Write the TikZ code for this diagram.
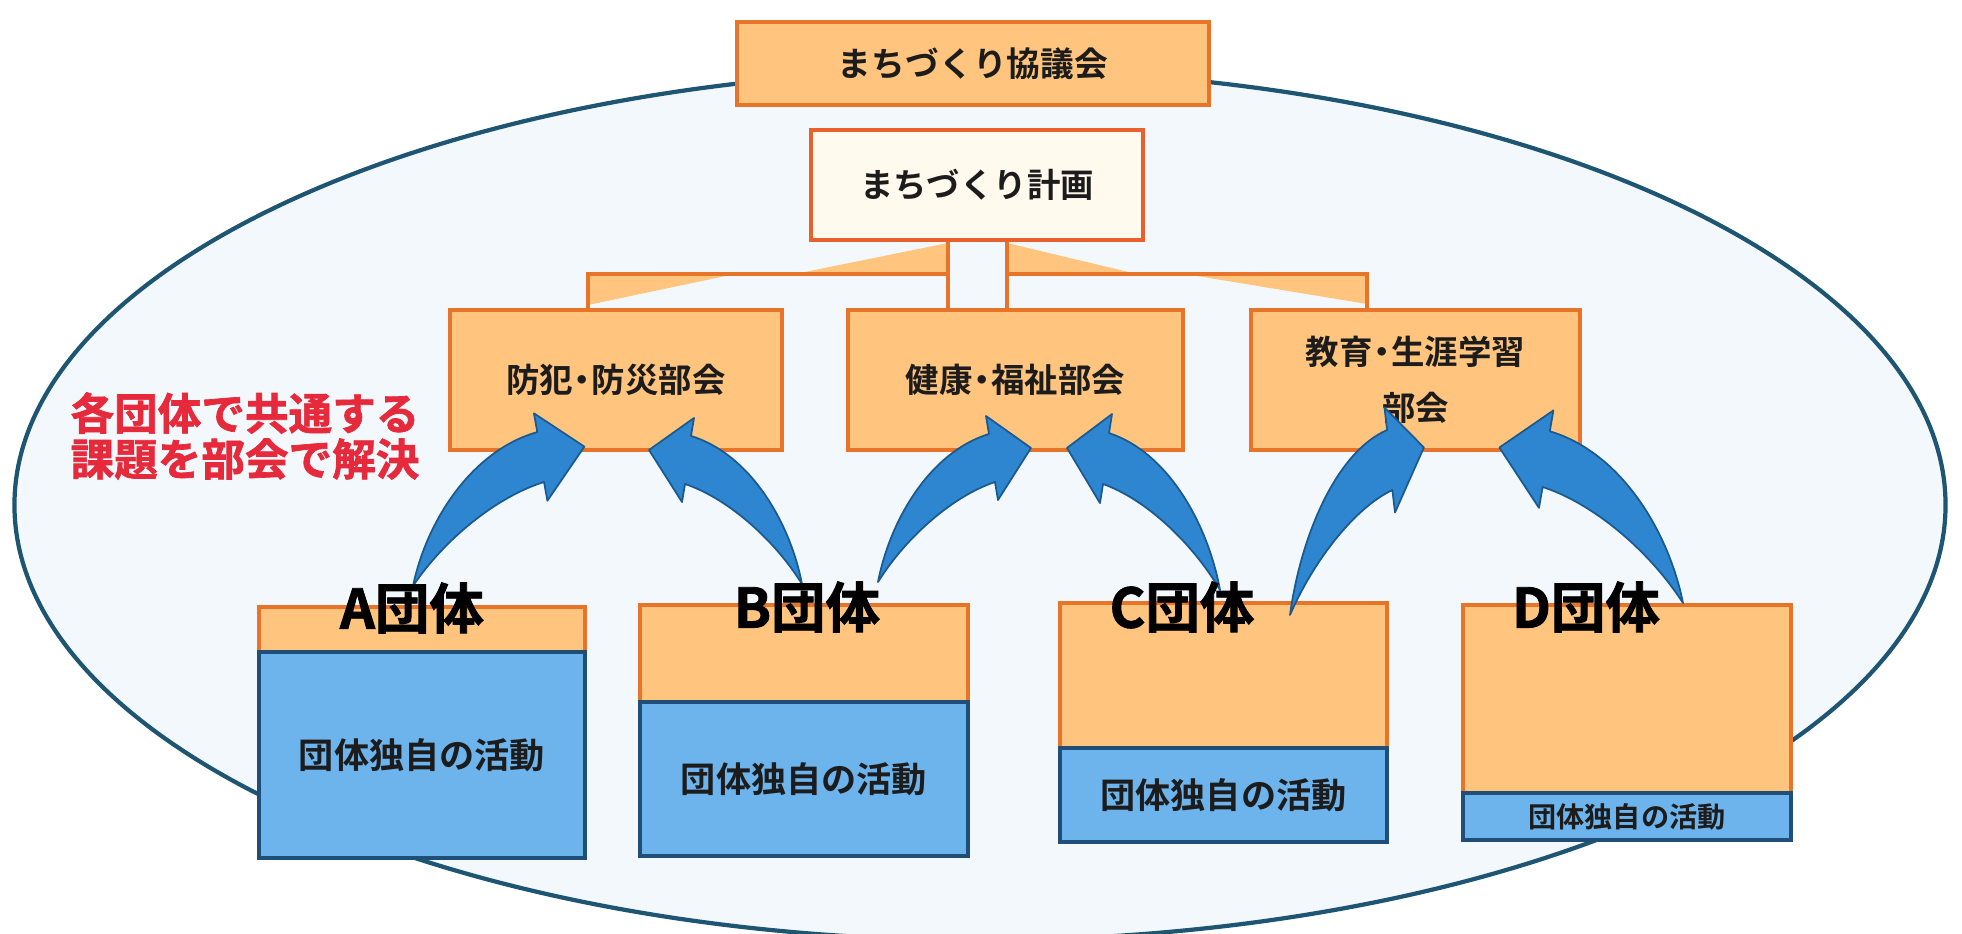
\documentclass[tikz,border=0pt]{standalone}
\usepackage{fontspec}
\setmainfont{Noto Sans CJK JP}[BoldFont={* Bold}]
\newfontfamily\heavyjp{Noto Sans CJK JP Bold}[FakeBold=1.6]
\usetikzlibrary{calc}
\definecolor{oFill}{HTML}{FFC47E}
\definecolor{oLine}{HTML}{E8742A}
\definecolor{oRed}{HTML}{E8602C}
\definecolor{bFill}{HTML}{6DB3EC}
\definecolor{bLine}{HTML}{1F4E79}
\definecolor{arrFill}{HTML}{2F86D0}
\definecolor{arrLine}{HTML}{1B5A90}
\definecolor{ellFill}{HTML}{F3F8FC}
\definecolor{ellLine}{HTML}{1D5573}
\definecolor{cream}{HTML}{FFF9EE}
\definecolor{redtxt}{HTML}{E62A3C}
\definecolor{txt}{HTML}{1C1C1C}
\newcommand{\nd}{\kern-0.22em・\kern-0.22em}
\tikzset{
 obox/.style={draw=oLine, fill=oFill, line width=1.2pt, inner sep=0pt, text=txt,
   font=\bfseries\fontsize{9.5pt}{13pt}\selectfont, align=center},
 pbox/.style={obox, fill=cream, draw=oRed},
 topart/.style={draw=oLine, fill=oFill, line width=1.1pt, inner sep=0pt},
 ownbox/.style={draw=bLine, fill=bFill, line width=1.1pt, inner sep=0pt, text=txt,
   font=\bfseries\fontsize{10pt}{12pt}\selectfont},
 grp/.style={font=\heavyjp\fontsize{15.5pt}{18pt}\selectfont, text=black, inner sep=0pt},
 conn/.style={draw=oLine, line width=1pt},
 fan/.style={fill=oFill},
 barrow/.style={fill=arrFill, draw=arrLine, line width=0.5pt, line join=round}
}
\newcommand{\blockarrow}[3]{%
 \begin{scope}[shift={(#1)}, xscale=#2, yscale=#3]
 \draw[barrow] (0,0) .. controls (12,-62) and (52,-130) .. (111,-148) -- (108,-166)
   -- (153,-134) -- (120,-82) -- (117,-100) .. controls (75,-86) and (28,-45) .. (0,0) -- cycle;
 \end{scope}}
\begin{document}
\begin{tikzpicture}[x=0.01cm,y=-0.01cm]
\useasboundingbox (0,0) rectangle (1962,934);
\clip (0,0) rectangle (1962,934);
\fill[white] (0,0) rectangle (1962,934);
% big ellipse
\draw[fill=ellFill, draw=ellLine, line width=1.2pt] (980,505) ellipse [x radius=9.65cm, y radius=4.35cm];

% fan shading of the connectors
\fill[fan] (948,243) -- (948,274) -- (795,274) -- cycle;
\fill[fan] (588,274) -- (735,274) -- (588,305) -- cycle;
\fill[fan] (1007,243) -- (1007,274) -- (1137,274) -- cycle;
\fill[fan] (1367,274) -- (1367,304) -- (1185,274) -- cycle;

% top nodes
\node[obox, minimum width=4.72cm, minimum height=0.83cm, font=\bfseries\fontsize{9.6pt}{12pt}\selectfont] (kyo) at (973,63.5) {まちづくり協議会};
\node[pbox, minimum width=3.32cm, minimum height=1.10cm] (plan) at (977,185) {まちづくり計画};

% sub-committees
\node[obox, minimum width=3.32cm, minimum height=1.40cm] (b1) at (616,380) {防犯\nd 防災部会};
\node[obox, minimum width=3.35cm, minimum height=1.40cm] (b2) at (1015.5,380) {健康\nd 福祉部会};
\node[obox, minimum width=3.29cm, minimum height=1.40cm] (b3) at (1415.5,380) {教育\nd 生涯学習\\[3pt]部会};

% connectors
\coordinate (jl) at (948,274);
\coordinate (jr) at (1007,274);
\draw[conn] ([xshift=-0.29cm]plan.south) -- ([xshift=-0.29cm]plan.south |- b2.north);
\draw[conn] ([xshift=0.30cm]plan.south) -- ([xshift=0.30cm]plan.south |- b2.north);
\draw[conn] (jl) -| ([xshift=-0.28cm]b1.north);
\draw[conn] (jr) -| ([xshift=-0.485cm]b3.north);

% group boxes
\node[topart, minimum width=3.26cm, minimum height=0.45cm] (Atop) at (422,629.5) {};
\node[ownbox, minimum width=3.26cm, minimum height=2.06cm] (Aown) at (422,755) {団体独自の活動};
\node[topart, minimum width=3.28cm, minimum height=0.97cm] (Btop) at (804,653.5) {};
\node[ownbox, minimum width=3.28cm, minimum height=1.54cm] (Bown) at (804,779) {団体独自の活動};
\node[topart, minimum width=3.27cm, minimum height=1.45cm] (Ctop) at (1223.5,675.5) {};
\node[ownbox, minimum width=3.27cm, minimum height=0.94cm] (Cown) at (1223.5,795) {\raisebox{-3pt}{団体独自の活動}};
\node[topart, minimum width=3.28cm, minimum height=1.88cm] (Dtop) at (1627,699) {};
\node[ownbox, minimum width=3.28cm, minimum height=0.47cm, font=\bfseries\fontsize{8pt}{9pt}\selectfont] (Down) at (1627,816.5) {団体独自の活動};

% curved block arrows
\coordinate (t1) at (413,586);
\coordinate (t2) at (802,584);
\coordinate (t3) at (878,582);
\coordinate (t4) at (1220,590);
\coordinate (t5) at (1290,615);
\coordinate (t6) at (1683,603);
\blockarrow{t1}{1.12}{1.04}
\blockarrow{t2}{-1}{1}
\blockarrow{t3}{1}{1}
\blockarrow{t4}{-1}{1.06}
\blockarrow{t5}{0.875}{1.25}
\blockarrow{t6}{-1.2}{1.16}

% group labels
\node[grp] (la) at (412,608) {A団体};
\node[grp] (lb) at (807,607) {B団体};
\node[grp] (lc) at (1182,607) {C団体};
\node[grp] (ld) at (1586,607) {D団体};

% red note
\node[text=redtxt, font=\heavyjp\fontsize{12.4pt}{13pt}\selectfont, align=center, inner sep=0pt] (note) at (245,436) {各団体で共通する\\課題を部会で解決};
\end{tikzpicture}
\end{document}
